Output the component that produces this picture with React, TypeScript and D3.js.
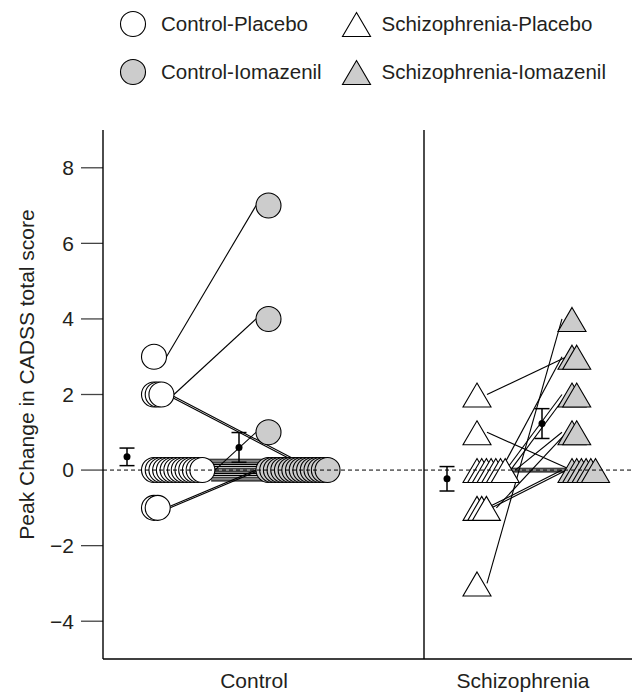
import React from "react";
import * as d3 from "d3";

// peak change in CADSS total score, one entry per subject (same order in both arrays)
const controlPlacebo = [-1, -1, 0, 0, 0, 0, 0, 0, 0, 0, 0, 0, 0, 0, 0, 0, 2, 2, 2, 3];
const controlIomazenil = [0, 0, 0, 0, 0, 0, 0, 0, 0, 0, 0, 0, 0, 0, 0, 1, 0, 0, 4, 7];
const schizPlacebo = [-1, -1, 1, 0, 0, 0, 0, 0, 0, 0, -1, 2, -3];
const schizIomazenil = [0, 0, 0, 0, 0, 0, 3, 2, 2, 1, 1, 3, 4];

const groups = ["Control", "Schizophrenia"];
const conditions = ["Placebo", "Iomazenil"];
const yTicks = [-4, -2, 0, 2, 4, 6, 8];
const yTitle = "Peak Change in CADSS total score";

const W = 638;
const H = 695;
const plot = { left: 103, right: 632, top: 130, bottom: 659 };
const FONT = "'Liberation Sans', Arial, Helvetica, sans-serif";
const GRAY = "#cccccc";
const R = 12.5;

const y = d3.scaleLinear().domain([-5, 9]).range([plot.bottom, plot.top]);

// where things sit inside each panel (pixels from the panel's left edge)
const layout: Record<string, any> = {
  Control: {
    x0: plot.left, x1: 424, label: 254,
    mean: [24, 136], base: [51, 165.5], step: [3.72, 3.69],
    shape: "circle", lineOff: R,
    data: [controlPlacebo, controlIomazenil],
  },
  Schizophrenia: {
    x0: 424, x1: plot.right, label: 523,
    mean: [23, 118], base: [53, 148], step: [4.7, 4.7],
    shape: "triangle", lineOff: 10,
    data: [schizPlacebo, schizIomazenil],
  },
};

const triPath = "M0,-11.5L14,12.5L-14,12.5Z";

function Marker({ shape, cx, cy, fill }: any) {
  if (shape === "circle")
    return <circle cx={cx} cy={cy} r={R} fill={fill} stroke="#000" strokeWidth={1.1} />;
  return <path d={triPath} transform={`translate(${cx},${cy})`} fill={fill} stroke="#000" strokeWidth={1.1} />;
}

// stack index of each subject among subjects sharing the same value
function stackIndex(vals: number[]) {
  const seen = new Map<number, number>();
  return vals.map((v) => {
    const k = seen.get(v) ?? 0;
    seen.set(v, k + 1);
    return k;
  });
}

function Panel({ name }: { name: string }) {
  const L = layout[name];
  const [pl, io] = L.data as number[][];
  const idx = [stackIndex(pl), stackIndex(io)];
  const xOf = (c: number, i: number) => L.x0 + L.base[c] + idx[c][i] * L.step[c];

  // lines between equal values are spread slightly so they read as a band
  const flatIds = pl.map((v, i) => i).filter((i) => pl[i] === io[i]);
  const flatOff = (i: number) => {
    const k = flatIds.indexOf(i);
    return k < 0 ? 0 : (k - (flatIds.length - 1) / 2) * 1.8;
  };

  const lines = pl.map((v, i) => (
    <line
      key={"l" + i}
      x1={xOf(0, i) + L.lineOff}
      y1={y(v) + flatOff(i)}
      x2={xOf(1, i) - L.lineOff}
      y2={y(io[i]) + flatOff(i)}
      stroke="#000"
      strokeWidth={1.1}
    />
  ));

  const markers = [0, 1].map((c) => {
    const vals = L.data[c] as number[];
    const order = d3.range(vals.length).sort((a, b) => vals[a] - vals[b] || idx[c][a] - idx[c][b]);
    return order.map((i) => (
      <Marker key={`m${c}-${i}`} shape={L.shape} cx={xOf(c, i)} cy={y(vals[i])} fill={c === 0 ? "#fff" : GRAY} />
    ));
  });

  const stats = [0, 1].map((c) => {
    const vals = L.data[c] as number[];
    const m = d3.mean(vals) as number;
    const se = (d3.deviation(vals) as number) / Math.sqrt(vals.length);
    const cx = L.x0 + L.mean[c];
    return (
      <g key={"s" + c} stroke="#000" strokeWidth={1.5}>
        <line x1={cx} x2={cx} y1={y(m + se)} y2={y(m - se)} />
        <line x1={cx - 7.5} x2={cx + 7.5} y1={y(m + se)} y2={y(m + se)} />
        <line x1={cx - 7.5} x2={cx + 7.5} y1={y(m - se)} y2={y(m - se)} />
        <circle cx={cx} cy={y(m)} r={3.5} fill="#000" stroke="none" />
      </g>
    );
  });

  return (
    <g>
      {lines}
      {markers}
      <line x1={L.x0} x2={L.x1} y1={y(0)} y2={y(0)} stroke="#000" strokeWidth={1} strokeDasharray="4 3" />
      {stats}
      <text x={L.label} y={688} textAnchor="middle" fontSize={21} fill="#231f20">
        {name}
      </text>
    </g>
  );
}

const legendItems = [
  { label: groups[0] + "-" + conditions[0], shape: "circle", fill: "#fff" },
  { label: groups[1] + "-" + conditions[0], shape: "triangle", fill: "#fff" },
  { label: groups[0] + "-" + conditions[1], shape: "circle", fill: GRAY },
  { label: groups[1] + "-" + conditions[1], shape: "triangle", fill: GRAY },
];

export default function App() {
  const fmt = d3.format("d");
  return (
    <svg width={W} height={H} style={{ position: "absolute", left: 0, top: 0, background: "#fff" }} fontFamily={FONT}>
      {legendItems.map((d, i) => {
        const col = i % 2;
        const row = Math.floor(i / 2);
        const mx = col === 0 ? 133 : 356.5;
        const my = row === 0 ? 24 : 72;
        return (
          <g key={d.label}>
            <Marker shape={d.shape} cx={mx} cy={my} fill={d.fill} />
            <text x={mx + (col === 0 ? 28 : 25)} y={my} dy="0.35em" fontSize={20.5} fill="#231f20">
              {d.label}
            </text>
          </g>
        );
      })}

      {groups.map((g) => (
        <Panel key={g} name={g} />
      ))}

      {/* axes */}
      <g>
        {yTicks.map((t) => (
          <g key={t}>
            <line x1={plot.left - 22} x2={plot.left} y1={y(t)} y2={y(t)} stroke="#444" strokeWidth={1.3} />
            <text x={plot.left - 29} y={y(t)} dy="0.35em" textAnchor="end" fontSize={21} fill="#231f20">
              {fmt(t)}
            </text>
          </g>
        ))}
        <line x1={plot.left} x2={plot.left} y1={plot.top} y2={plot.bottom} stroke="#000" strokeWidth={1.4} />
        <line x1={plot.left} x2={plot.right} y1={plot.bottom} y2={plot.bottom} stroke="#000" strokeWidth={1.4} />
        <line x1={layout.Schizophrenia.x0} x2={layout.Schizophrenia.x0} y1={plot.top} y2={plot.bottom} stroke="#000" strokeWidth={1.4} />
        <text
          transform={`translate(27,${(plot.top + plot.bottom) / 2 - 20}) rotate(-90)`}
          textAnchor="middle"
          dy="0.35em"
          fontSize={21}
          fill="#231f20"
        >
          {yTitle}
        </text>
      </g>
    </svg>
  );
}
